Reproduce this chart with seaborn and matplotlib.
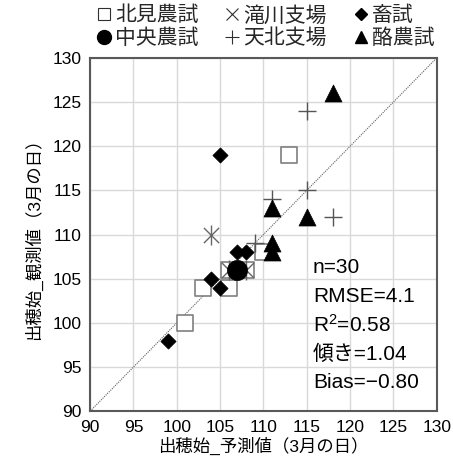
import matplotlib
matplotlib.use('Agg')
import matplotlib.pyplot as plt
from matplotlib.lines import Line2D
import numpy as np
import pandas as pd
import seaborn as sns

# station data: predicted (x) vs observed (y) heading date, day of March
kitami_x = [113, 110, 106, 108, 103, 106, 101]
kitami_y = [119, 108, 106, 106, 104, 104, 100]
chuo_x = [107]
chuo_y = [106]
takikawa_x = [104, 106, 108]
takikawa_y = [110, 106, 106]
tenpoku_x = [115, 115, 118, 111, 109]
tenpoku_y = [124, 115, 112, 114, 109]
chikushi_x = [105, 107, 108, 104, 105, 99]
chikushi_y = [119, 108, 108, 105, 104, 98]
rakuno_x = [118, 111, 115, 111, 111]
rakuno_y = [126, 113, 112, 109, 108]

labels = ['北見農試', '中央農試', '滝川支場', '天北支場', '畜試', '酪農試']
stats = ['n=30', 'RMSE=4.1', 'R$^2$=0.58', '傾き=1.04', 'Bias=\u22120.80']
ticks = [90, 95, 100, 105, 110, 115, 120, 125, 130]

sns.set_theme(style='white')
plt.rcParams['font.family'] = ['Liberation Sans', 'Noto Sans CJK JP']
plt.rcParams['mathtext.default'] = 'regular'

fig = plt.figure(figsize=(4.53, 4.71), dpi=100)
ax = fig.add_axes([0.199, 0.127, 0.765, 0.750])

gray = '#7f7f7f'
ax.plot([90, 130], [90, 130], ls=(0, (1, 1)), color='#606060', lw=0.8, zorder=1)

sns.scatterplot(x=kitami_x, y=kitami_y, marker='s', s=133, facecolor='white',
                edgecolor=gray, linewidth=1.2, ax=ax, zorder=3)
sns.scatterplot(x=takikawa_x, y=takikawa_y, marker='x', s=120, color='#666666',
                linewidth=1.0, ax=ax, zorder=4)
sns.scatterplot(x=takikawa_x, y=takikawa_y, marker='|', s=190, color='#666666',
                linewidth=1.0, ax=ax, zorder=4)
sns.scatterplot(x=chikushi_x, y=chikushi_y, marker='D', s=60, color='black',
                edgecolor='black', linewidth=0.5, ax=ax, zorder=5)
sns.scatterplot(x=chuo_x, y=chuo_y, marker='o', s=210, color='black',
                edgecolor='black', linewidth=0.5, ax=ax, zorder=5)
sns.scatterplot(x=tenpoku_x, y=tenpoku_y, marker='+', s=150, color='#555555',
                linewidth=1.0, ax=ax, zorder=6)
sns.scatterplot(x=rakuno_x, y=rakuno_y, marker='^', s=150, color='black',
                edgecolor='black', linewidth=0.5, ax=ax, zorder=6)

ax.set_xlim(90, 130)
ax.set_ylim(90, 130)
ax.set_xticks(ticks)
ax.set_yticks(ticks)
ax.tick_params(labelsize=12.5, length=0, pad=6, colors='black')
ax.grid(True, color='#d9d9d9', lw=1)
ax.set_axisbelow(True)
for sp in ax.spines.values():
    sp.set_color('#595959')
    sp.set_linewidth(1.5)

ax.set_xlabel('出穂始_予測値（3月の日）', fontsize=12.5, labelpad=2, color='black')
ax.set_ylabel('出穂始_観測値（3月の日）', fontsize=12.5, labelpad=8, color='black')

for i, t in enumerate(stats):
    ax.text(0.643, 0.408 - i * 0.082, t, transform=ax.transAxes, fontsize=15,
            va='center', ha='left', color='black', zorder=7)

# legend (column-wise fill: 北見/中央, 滝川/天北, 畜試/酪農試)
handles = [
    Line2D([], [], ls='', marker='s', ms=8, mfc='white', mec='#303030', mew=0.8),
    Line2D([], [], ls='', marker='o', ms=10, color='black'),
    Line2D([], [], ls='', marker='x', ms=8, color='#303030', mew=0.8),
    Line2D([], [], ls='', marker='+', ms=10, color='#303030', mew=0.8),
    Line2D([], [], ls='', marker='D', ms=6.5, color='black'),
    Line2D([], [], ls='', marker='^', ms=9, color='black'),
]
fig.legend(handles, labels, loc='upper left', bbox_to_anchor=(0.215, 0.988), ncol=3,
           frameon=False, fontsize=15, handlelength=0.65, handletextpad=0.2,
           columnspacing=1.3, labelspacing=0.15, borderaxespad=0, borderpad=0)

fig.savefig('out.png', dpi=100)
